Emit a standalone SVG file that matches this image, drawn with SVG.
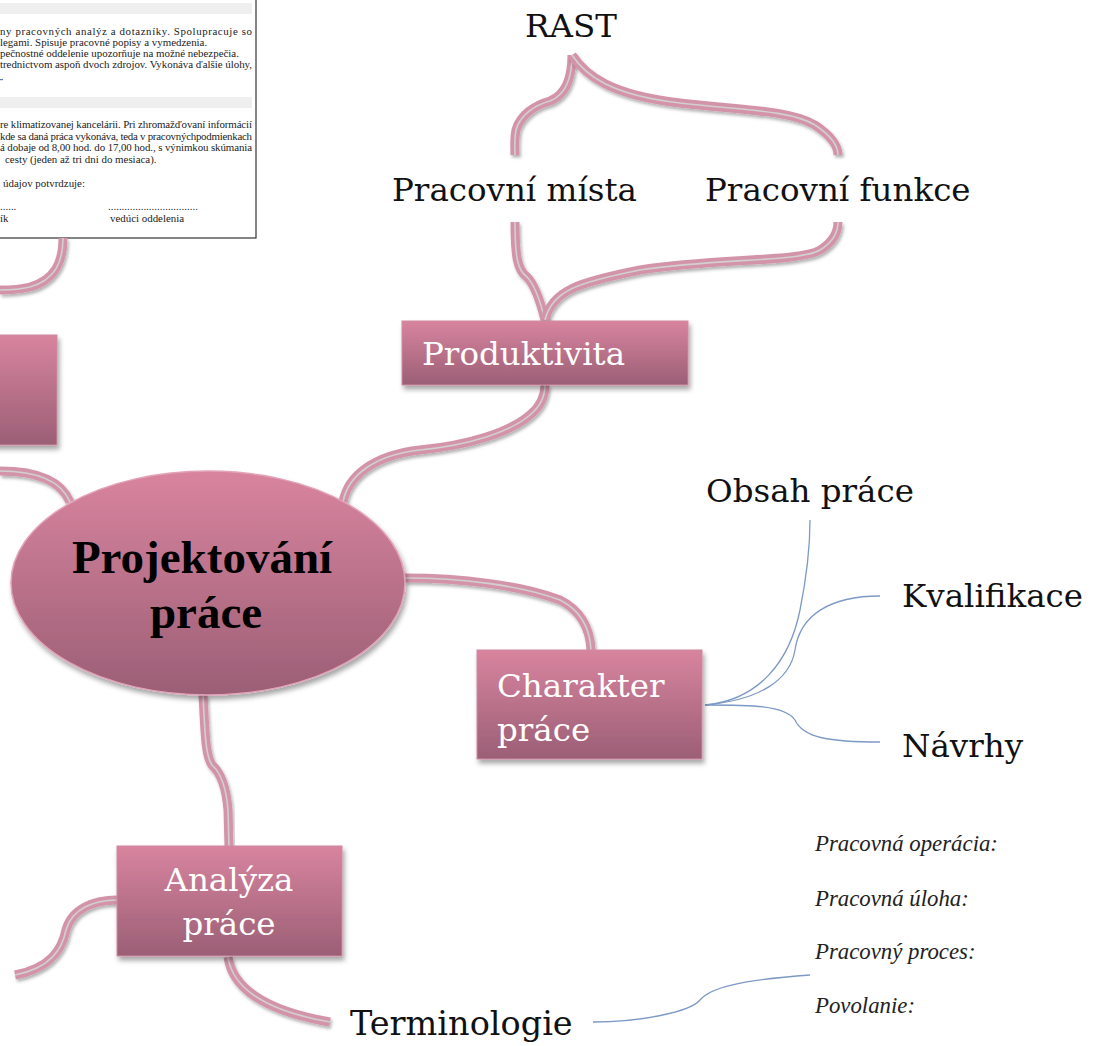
<svg xmlns="http://www.w3.org/2000/svg" xmlns:xlink="http://www.w3.org/1999/xlink" width="1096" height="1046" viewBox="0 0 1096 1046">
  <style>
    .doc { font-family: "Liberation Serif", "Times New Roman", serif; font-size: 10.9px; fill: #222; }
    .label { font-family: "DejaVu Serif", "Liberation Serif", serif; font-size: 32.5px; fill: #111; }
    .boxlabel { font-family: "DejaVu Serif", "Liberation Serif", serif; font-size: 32.5px; fill: #fff; }
    .term { font-family: "Liberation Serif", "Times New Roman", serif; font-style: italic; font-size: 22.8px; fill: #222; }
    .title { font-family: "Liberation Serif", "Times New Roman", serif; font-weight: bold; font-size: 47px; fill: #000; text-anchor: middle; }
    .box { fill: url(#boxGrad); stroke: #cf8aa2; stroke-width: 1; filter: url(#shadow); }
    .outer { fill: none; stroke: #d394aa; stroke-width: 9; stroke-linecap: butt; filter: url(#lineShadow); }
    .inner { fill: none; stroke: #d2cfd0; stroke-width: 1.6; }
    .thin { fill: none; stroke: #7d99c6; stroke-width: 1.3; }
  </style>
  <defs>
    <linearGradient id="boxGrad" x1="0" y1="0" x2="0" y2="1">
      <stop offset="0" stop-color="#d8849f"/>
      <stop offset="1" stop-color="#9b5f75"/>
    </linearGradient>
    <linearGradient id="ellGrad" x1="0" y1="0" x2="0" y2="1">
      <stop offset="0" stop-color="#d9849f"/>
      <stop offset="1" stop-color="#9b5f75"/>
    </linearGradient>
    <filter id="shadow" x="-10%" y="-10%" width="125%" height="135%">
      <feDropShadow dx="2" dy="4" stdDeviation="2.5" flood-color="#000" flood-opacity="0.35"/>
    </filter>
    <filter id="lineShadow" x="-20%" y="-20%" width="140%" height="140%">
      <feDropShadow dx="1.5" dy="2.5" stdDeviation="1.5" flood-color="#000" flood-opacity="0.3"/>
    </filter>
    <!-- branch curves, each drawn as a wide band with a fine light core -->
    <path id="p-doc" d="M63,238 C63,262 55,280 30,287 C18,290 8,290 0,290"/>
    <path id="p-left" d="M0,471 C30,471 60,478 70,502"/>
    <path id="p-prod" d="M343,502 C348,475 375,455 420,450 C470,445 510,432 530,415 C542,405 545,395 545,385"/>
    <path id="p-mista" d="M545,320 C540,300 535,285 527,277 C517,270 515,255 515,222"/>
    <path id="p-funkce" d="M545,320 C552,290 580,282 640,270 C720,258 800,262 820,250 C833,242 838,232 838,222"/>
    <path id="p-rast1" d="M572,55 C572,80 565,95 550,101 C535,105 520,115 516,130 C514,140 515,150 515,155"/>
    <path id="p-rast2" d="M572,55 C585,75 610,95 680,103 C740,110 790,110 815,125 C830,135 838,145 838,155"/>
    <path id="p-char" d="M405,578 C460,578 520,585 560,600 C582,611 590,630 591,650"/>
    <path id="p-anal" d="M203,695 C205,730 205,755 212,765 C220,772 226,785 228,810 L229,847"/>
    <path id="p-analL" d="M117,900 C95,900 72,908 66,930 C62,950 50,968 15,975"/>
    <path id="p-term" d="M228,957 C232,985 260,1010 330,1022"/>
  </defs>

  <rect width="1096" height="1046" fill="#fff"/>

  <!-- job description sheet, partly off the left and top edges -->
  <g id="node-document">
    <rect x="-10" y="-10" width="266" height="248" fill="#fff" stroke="#333" stroke-width="1.2"/>
    <rect x="0" y="3" width="252" height="11" fill="#efefef"/>
    <rect x="0" y="97" width="252" height="11" fill="#efefef"/>
    <text class="doc" x="0" y="35" textLength="252" lengthAdjust="spacing">ny pracovných analýz a dotazníky. Spolupracuje so</text>
    <text class="doc" x="0" y="46">legami. Spisuje pracovné popisy a vymedzenia.</text>
    <text class="doc" x="0" y="57">pečnostné oddelenie upozorňuje na možné nebezpečia.</text>
    <text class="doc" x="0" y="68" textLength="252" lengthAdjust="spacing">trednictvom aspoň dvoch zdrojov. Vykonáva ďalšie úlohy,</text>
    <rect x="0" y="79" width="3" height="1.2" fill="#5b7fc0"/>
    <text class="doc" x="0" y="128" textLength="252" lengthAdjust="spacing">re klimatizovanej kancelárii. Pri zhromažďovaní informácií</text>
    <text class="doc" x="0" y="140" textLength="252" lengthAdjust="spacing">kde sa daná práca vykonáva, teda v pracovnýchpodmienkach</text>
    <text class="doc" x="0" y="151" textLength="252" lengthAdjust="spacing">á dobaje od 8,00 hod. do 17,00 hod., s výnimkou skúmania</text>
    <text class="doc" x="5" y="163">cesty (jeden až tri dni do mesiaca).</text>
    <text class="doc" x="3" y="187">údajov potvrdzuje:</text>
    <text class="doc" x="0" y="210">......</text>
    <text class="doc" x="108" y="210">.................................</text>
    <text class="doc" x="0" y="222">ík</text>
    <text class="doc" x="110" y="222">vedúci oddelenia</text>
  </g>

  <!-- connectors -->
  <g id="connectors">
    <use xlink:href="#p-doc" class="outer"/><use xlink:href="#p-doc" class="inner"/>
    <use xlink:href="#p-left" class="outer"/><use xlink:href="#p-left" class="inner"/>
    <use xlink:href="#p-prod" class="outer"/><use xlink:href="#p-prod" class="inner"/>
    <use xlink:href="#p-mista" class="outer"/><use xlink:href="#p-mista" class="inner"/>
    <use xlink:href="#p-funkce" class="outer"/><use xlink:href="#p-funkce" class="inner"/>
    <use xlink:href="#p-rast1" class="outer"/><use xlink:href="#p-rast1" class="inner"/>
    <use xlink:href="#p-rast2" class="outer"/><use xlink:href="#p-rast2" class="inner"/>
    <use xlink:href="#p-char" class="outer"/><use xlink:href="#p-char" class="inner"/>
    <use xlink:href="#p-anal" class="outer"/><use xlink:href="#p-anal" class="inner"/>
    <use xlink:href="#p-analL" class="outer"/><use xlink:href="#p-analL" class="inner"/>
    <use xlink:href="#p-term" class="outer"/><use xlink:href="#p-term" class="inner"/>
    <path class="thin" d="M705,705 C760,700 790,660 800,610 C808,570 810,540 810,520"/>
    <path class="thin" d="M705,705 C760,700 790,680 795,650 C800,615 830,596 880,596"/>
    <path class="thin" d="M705,705 C750,705 785,705 795,720 C803,738 830,742 880,742"/>
    <path class="thin" d="M593,1022 C640,1022 690,1012 700,1000 C710,988 740,980 810,975"/>
  </g>

  <g id="node-left">
    <rect class="box" x="-20" y="335" width="77" height="110"/>
  </g>

  <g id="node-center">
    <ellipse cx="208" cy="583" rx="197" ry="112" fill="url(#ellGrad)" stroke="#e2a3b8" stroke-width="1.5" filter="url(#shadow)"/>
    <text class="title" x="202" y="573">Projektování</text>
    <text class="title" x="206" y="628">práce</text>
  </g>

  <g id="node-produktivita">
    <rect class="box" x="402" y="321" width="286" height="64"/>
    <text class="boxlabel" x="422" y="365">Produktivita</text>
  </g>

  <g id="node-charakter">
    <rect class="box" x="477" y="650" width="225" height="109"/>
    <text class="boxlabel" x="497" y="697">Charakter</text>
    <text class="boxlabel" x="497" y="741">práce</text>
  </g>

  <g id="node-analyza">
    <rect class="box" x="117" y="846" width="225" height="110"/>
    <text class="boxlabel" x="229" y="891" text-anchor="middle">Analýza</text>
    <text class="boxlabel" x="229" y="935" text-anchor="middle">práce</text>
  </g>

  <g id="node-rast"><text class="label" x="525" y="37">RAST</text></g>
  <g id="node-mista"><text class="label" x="392" y="201">Pracovní místa</text></g>
  <g id="node-funkce"><text class="label" x="705" y="201">Pracovní funkce</text></g>
  <g id="node-obsah"><text class="label" x="706" y="502">Obsah práce</text></g>
  <g id="node-kvalifikace"><text class="label" x="902" y="607">Kvalifikace</text></g>
  <g id="node-navrhy"><text class="label" x="902" y="757">Návrhy</text></g>
  <g id="node-terminologie"><text class="label" x="350" y="1035" style="font-size:33.5px">Terminologie</text></g>

  <g id="node-terms">
    <text class="term" x="815" y="851">Pracovná operácia:</text>
    <text class="term" x="815" y="906">Pracovná úloha:</text>
    <text class="term" x="815" y="959">Pracovný proces:</text>
    <text class="term" x="815" y="1013">Povolanie:</text>
  </g>
</svg>
